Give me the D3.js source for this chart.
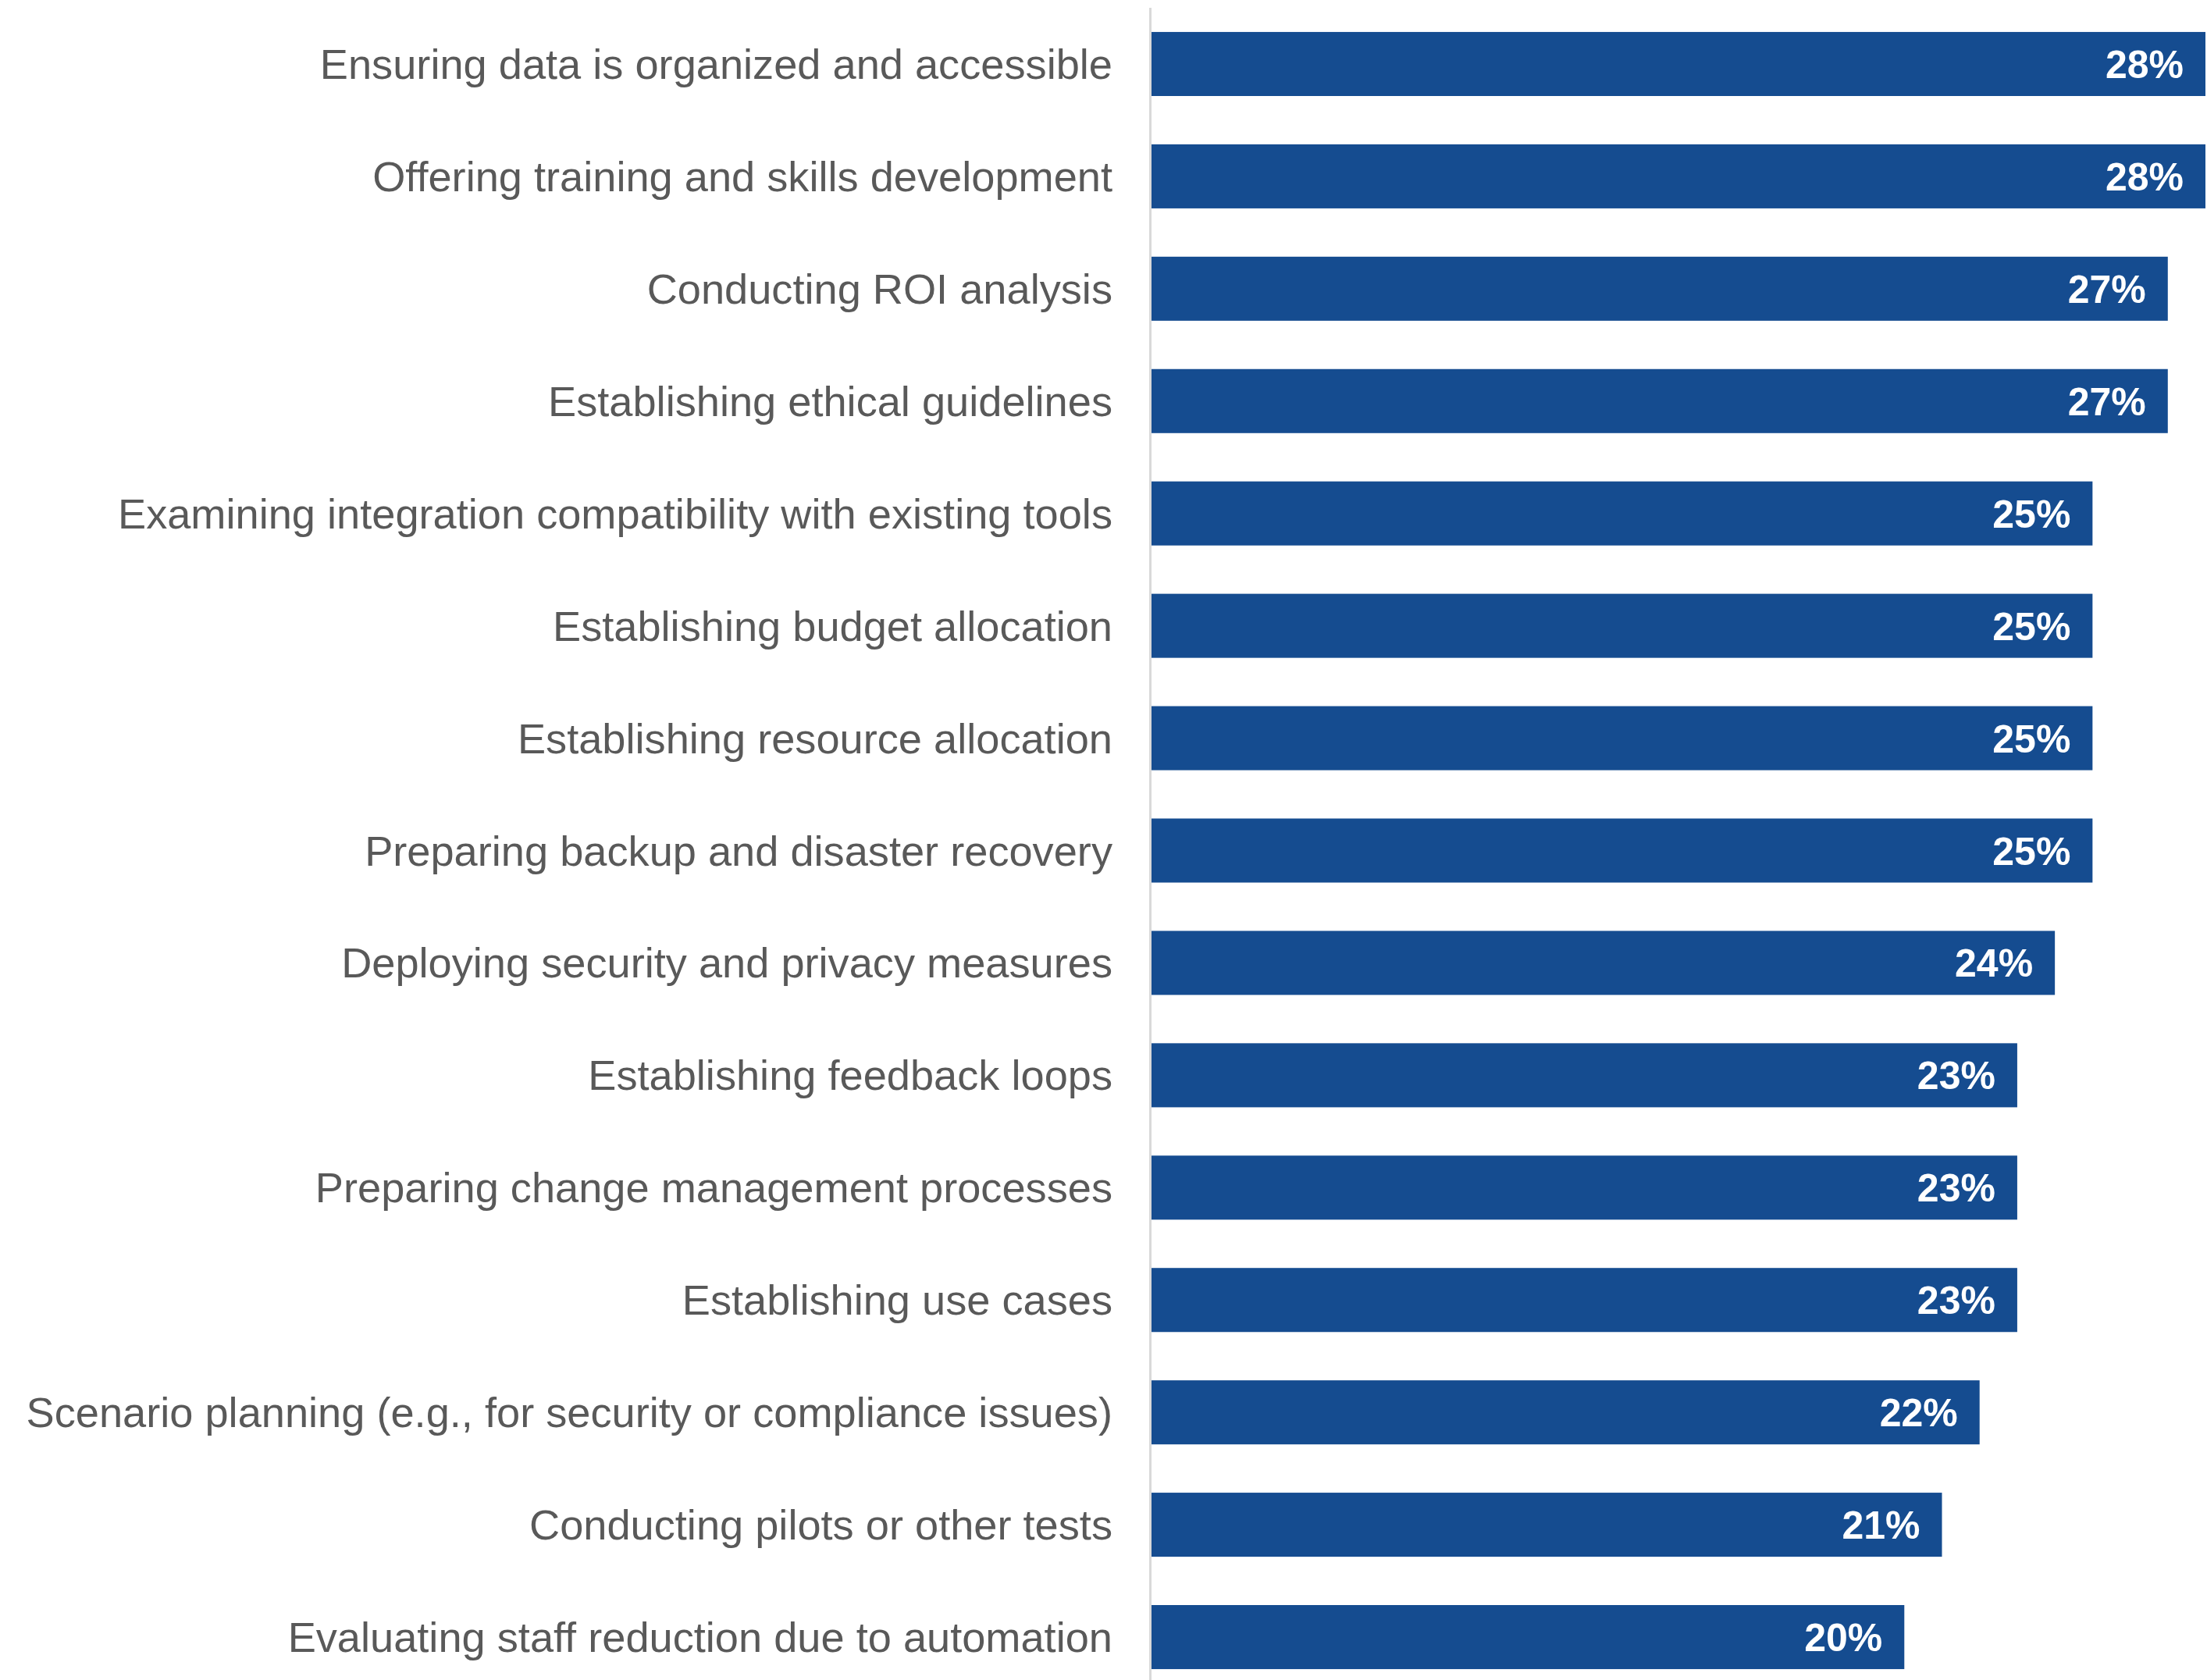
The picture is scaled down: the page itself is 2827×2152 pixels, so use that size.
<!DOCTYPE html>
<meta charset="utf-8">
<style>
    body { margin: 0; background: #fff; }
    .cat { font-family: "Liberation Sans", Arial, sans-serif; font-size: 54.2px; fill: #595959; }
    .val { font-family: "Liberation Sans", Arial, sans-serif; font-size: 50px; font-weight: bold; fill: #fff; }
</style>
<body>
<div id="chart"></div>
<script src="https://d3js.org/d3.v7.min.js"></script>
<script>
var categories = [
    "Ensuring data is organized and accessible",
    "Offering training and skills development",
    "Conducting ROI analysis",
    "Establishing ethical guidelines",
    "Examining integration compatibility with existing tools",
    "Establishing budget allocation",
    "Establishing resource allocation",
    "Preparing backup and disaster recovery",
    "Deploying security and privacy measures",
    "Establishing feedback loops",
    "Preparing change management processes",
    "Establishing use cases",
    "Scenario planning (e.g., for security or compliance issues)",
    "Conducting pilots or other tests",
    "Evaluating staff reduction due to automation"
];
var values = [28, 28, 27, 27, 25, 25, 25, 25, 24, 23, 23, 23, 22, 21, 20];

var width = 2827,
    height = 2152;

var svg = d3.select("#chart").append("svg")
    .attr("width", width)
    .attr("height", height);

var x = d3.scaleLinear()
    .domain([0, 28])
    .range([1475, 2825]);

var y = d3.scaleBand()
    .domain(categories)
    .range([10, 2169])
    .paddingInner(0.43)
    .paddingOuter(0.215);

// bars
svg.selectAll("rect.bar")
    .data(categories)
    .enter().append("rect")
    .attr("class", "bar")
    .attr("x", x(0))
    .attr("y", function(d) { return y(d); })
    .attr("width", function(d, i) { return x(values[i]) - x(0); })
    .attr("height", y.bandwidth())
    .style("fill", "#154c90");

// vertical axis line
svg.append("line")
    .attr("x1", x(0) - 1.5).attr("x2", x(0) - 1.5)
    .attr("y1", 10).attr("y2", height)
    .style("stroke", "#d9d9d9")
    .style("stroke-width", 3);

// category labels
svg.selectAll("text.cat")
    .data(categories)
    .enter().append("text")
    .attr("class", "cat")
    .attr("x", 1425)
    .attr("y", function(d) { return y(d) + y.bandwidth() / 2; })
    .attr("dy", 19)
    .attr("text-anchor", "end")
    .text(function(d) { return d; });

// value labels inside bars
svg.selectAll("text.val")
    .data(categories)
    .enter().append("text")
    .attr("class", "val")
    .attr("x", function(d, i) { return x(values[i]) - 28; })
    .attr("y", function(d) { return y(d) + y.bandwidth() / 2; })
    .attr("dy", 18)
    .attr("text-anchor", "end")
    .text(function(d, i) { return values[i] + "%"; });
</script>
</body>
